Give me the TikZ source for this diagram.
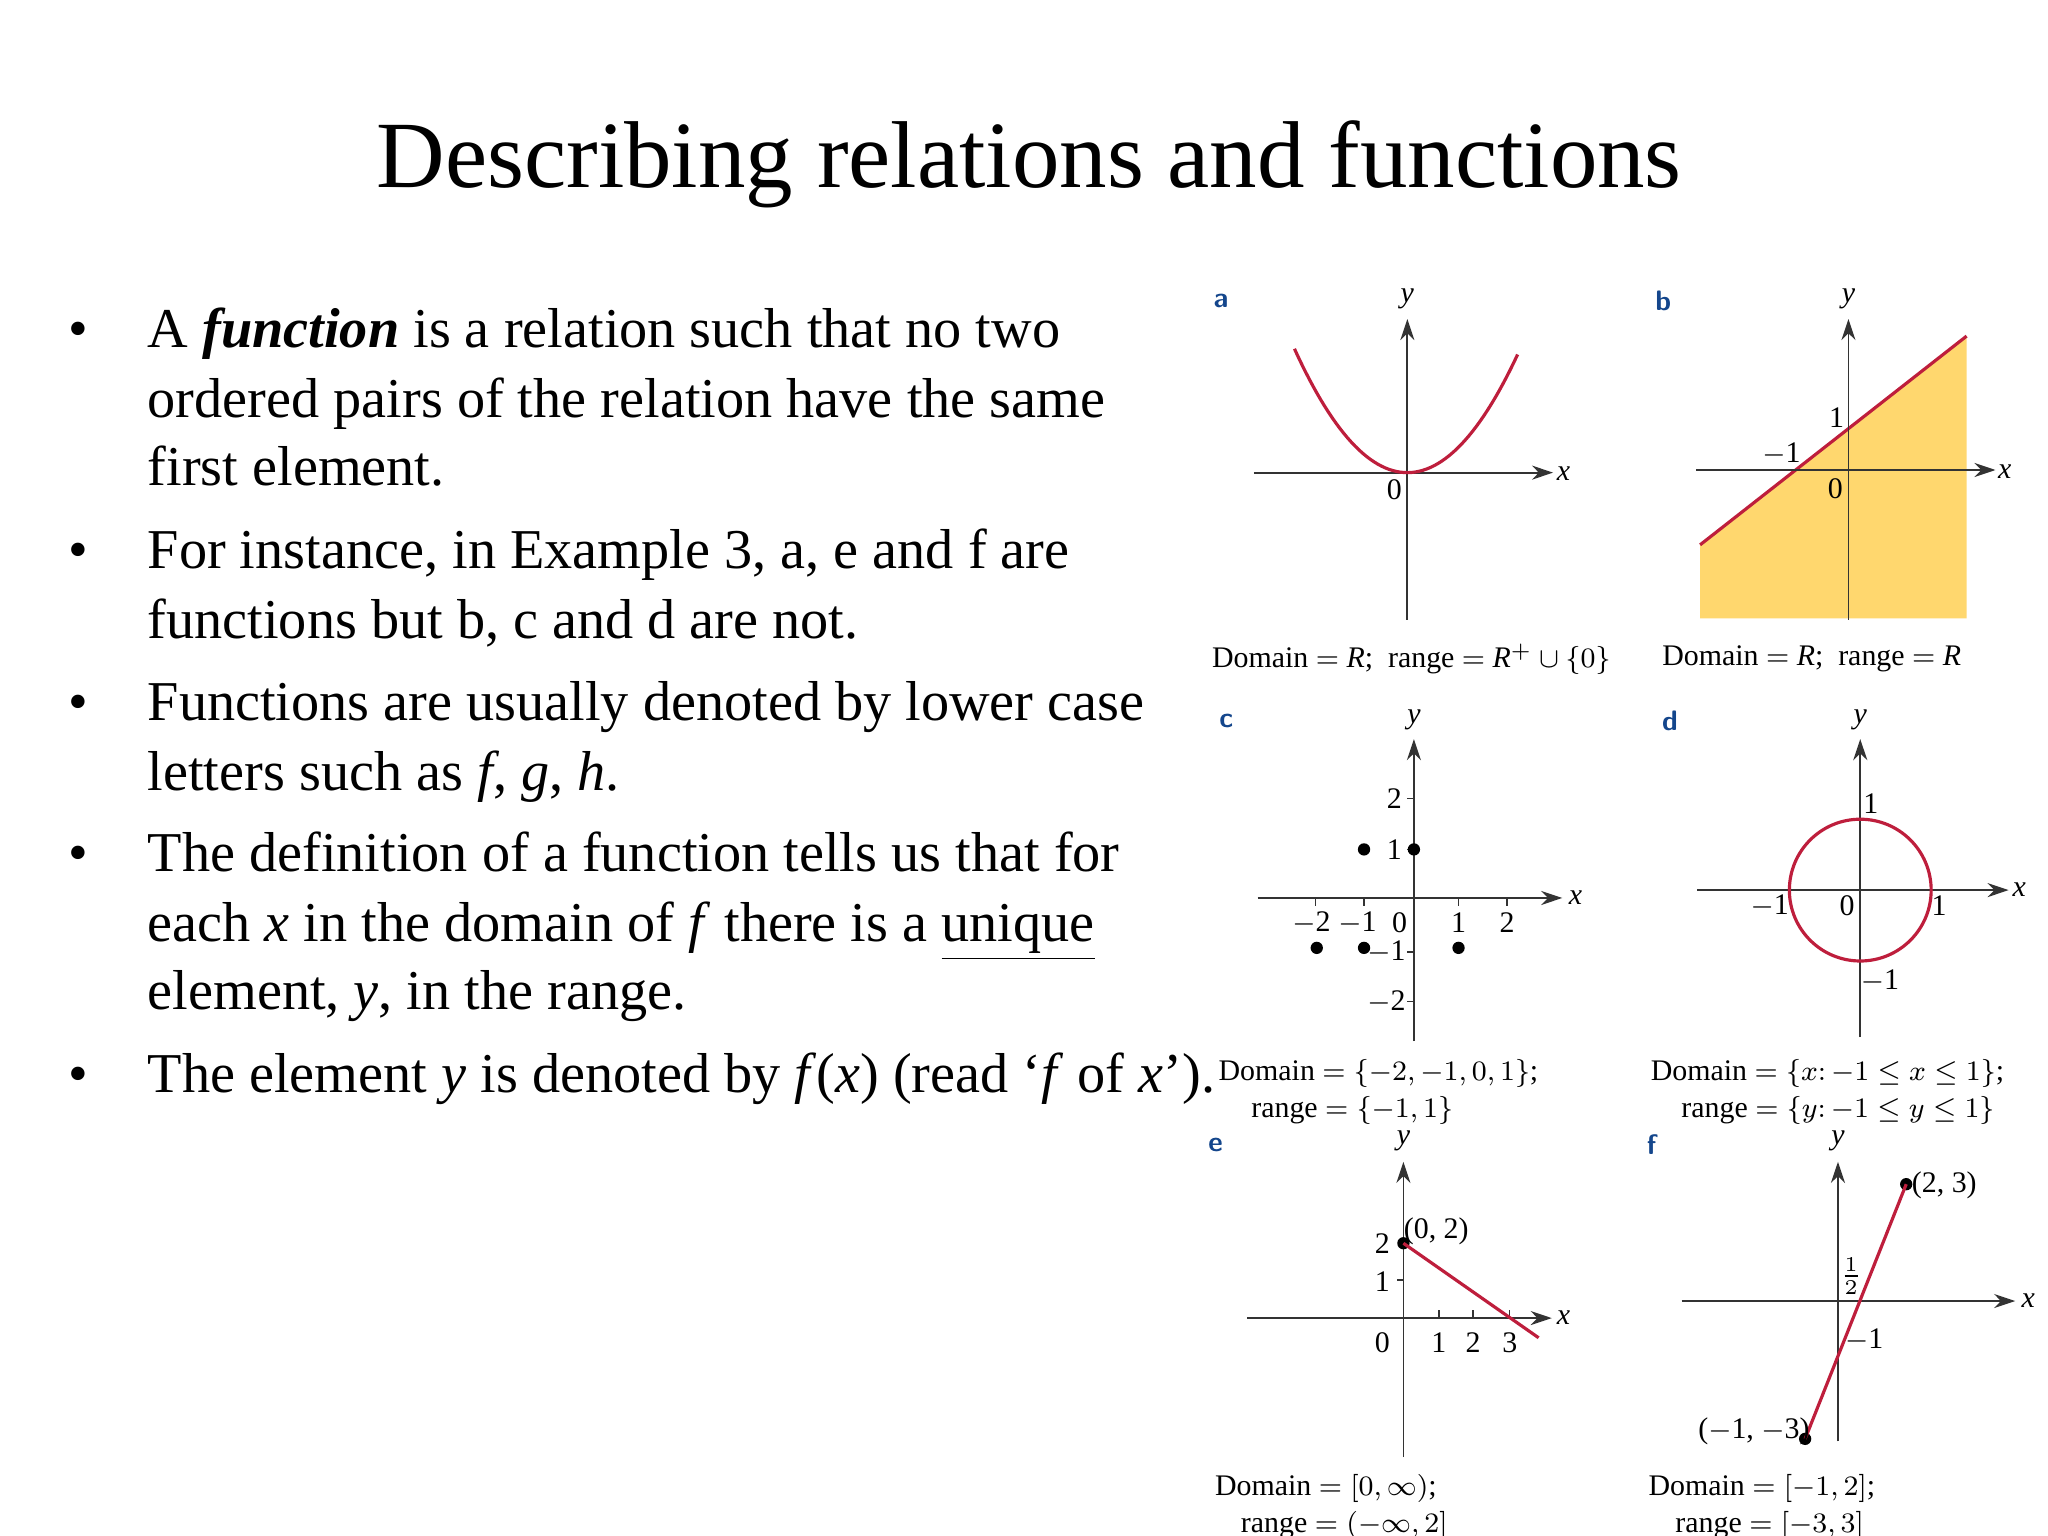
\documentclass[tikz,border=0pt]{standalone}
\usepackage{fontspec}
\setmainfont{Liberation Serif}
\usetikzlibrary{arrows.meta}
\definecolor{cred}{RGB}{190,30,60}
\definecolor{cyel}{RGB}{255,215,110}
\definecolor{cblue}{RGB}{20,70,140}
\begin{document}
\begin{tikzpicture}[x=0.013128cm,y=-0.013128cm,
  ax/.style={draw=black!80,line width=0.5pt,-{Stealth[length=6pt,width=4pt]}},
  lb/.style={font=\fontsize{8.5}{9}\selectfont,inner sep=0pt},
  captxt/.style={font=\fontsize{8.5}{10}\selectfont,inner sep=0pt},
  letr/.style={font=\sffamily\bfseries\fontsize{8}{9}\selectfont,text=cblue,inner sep=0pt},
  curve/.style={draw=cred,line width=0.9pt},
  dotp/.style={circle,fill=black,inner sep=0pt,minimum size=3.5pt},
  bt/.style={anchor=base west,inner sep=0pt,font=\fontsize{16}{18}\selectfont},
  bul/.style={anchor=base,inner sep=0pt,font=\fontsize{16}{18}\selectfont},
  tk/.style={draw=black!80,line width=0.4pt}]
\useasboundingbox (0,0) rectangle (1560,1170);
\fill[white] (0,0) rectangle (1560,1170);
\node[font=\fontsize{27}{30}\selectfont,inner sep=0pt] (title) at (784,125) {Describing relations and functions};
% bullets
\foreach \yy/\nm in {265/b1,433/b2,549/b3,664/b4,832/b5}{\node[bul] (\nm) at (60,\yy) {\textbullet};}
\node[bt] (l1) at (112,265) {A \textbf{\textit{function}} is a relation such that no two};
\node[bt] (l2) at (112,318) {ordered pairs of the relation have the same};
\node[bt] (l3) at (112,370) {first element.};
\node[bt] (l4) at (112,433) {For instance, in Example 3, a, e and f are};
\node[bt] (l5) at (112,486) {functions but b, c and d are not.};
\node[bt] (l6) at (112,549) {Functions are usually denoted by lower case};
\node[bt] (l7) at (112,602) {letters such as \textit{f}, \textit{g}, \textit{h}.};
\node[bt] (l8) at (112,664) {The definition of a function tells us that for};
\node[bt] (l9) at (112,717) {each \textit{x} in the domain of \textit{f} there is a \underline{unique}};
\node[bt] (l10) at (112,769) {element, \textit{y}, in the range.};
\node[bt] (l11) at (112,832) {The element \textit{y} is denoted by \textit{f}(\textit{x}) (read ‘\textit{f} of \textit{x}’).};
% ---- a
\node[letr] (la) at (930,229) {a};
\draw[ax] (1072,472) -- (1072,243);
\draw[ax] (955,360) -- (1183,360);
\node[lb] (ay) at (1072,228) {\textit{y}};
\node[lb] (axx) at (1191,361) {\textit{x}};
\node[lb] (a0) at (1062,373) {0};
\draw[curve,domain=-86:84,samples=60] plot ({1072+\x},{360-90*(\x/84)^2});
\node[captxt] (ca) at (1075,502) {Domain $=$ \textit{R};\ \ range $=$ \textit{R}$^{+}\cup\{0\}$};
% ---- b
\node[letr] (lbb) at (1267,229) {b};
\fill[cyel] (1295,415) -- (1498,256) -- (1498,471) -- (1295,471) -- cycle;
\draw[curve] (1295,415) -- (1498,256);
\draw[ax] (1408,472) -- (1408,243);
\draw[ax] (1292,358) -- (1520,358);
\node[lb] (by) at (1408,228) {\textit{y}};
\node[lb] (bx) at (1527,359) {\textit{x}};
\node[lb] (b0) at (1398,372) {0};
\node[lb] (b1l) at (1399,318) {1};
\node[lb] (bm1) at (1357,346) {$-$1};
\node[captxt] (cb) at (1380,502) {Domain $=$ \textit{R};\ \ range $=$ \textit{R}};
% ---- c
\node[letr] (lc) at (934,549) {c};
\draw[ax] (1077,793) -- (1077,563);
\draw[ax] (958,684) -- (1190,684);
\node[lb] (cy) at (1077,548) {\textit{y}};
\node[lb] (cx) at (1200,684) {\textit{x}};
\foreach \xx in {1002,1039,1111,1148} \draw[tk] (\xx,684) -- (\xx,690);
\foreach \yy in {608,647,725,763} \draw[tk] (1077,\yy) -- (1072,\yy);
\node[lb] at (999,703) {$-$2};
\node[lb] at (1034,703) {$-$1};
\node[lb] at (1066,703) {0};
\node[lb] at (1111,703) {1};
\node[lb] at (1148,703) {2};
\node[lb] at (1062,608) {2};
\node[lb] at (1062,647) {1};
\node[lb] at (1056,725) {$-$1};
\node[lb] at (1056,763) {$-$2};
\node[dotp] (p1) at (1039,647) {};
\node[dotp] (p2) at (1077,647) {};
\node[dotp] (p3) at (1003,722) {};
\node[dotp] (p4) at (1039,722) {};
\node[dotp] (p5) at (1111,722) {};
\node[captxt] (cc1) at (1050,818) {Domain $=\{-2,-1,0,1\}$;};
\node[captxt] (cc2) at (1030,846) {range $=\{-1,1\}$};
% ---- d
\node[letr] (ld) at (1272,549) {d};
\draw[ax] (1417,790) -- (1417,563);
\draw[ax] (1293,678) -- (1530,678);
\node[lb] (dy) at (1417,548) {\textit{y}};
\node[lb] (dx) at (1538,678) {\textit{x}};
\draw[curve] (1417,678) circle [radius=54];
\node[lb] at (1425,612) {1};
\node[lb] at (1407,690) {0};
\node[lb] at (1348,690) {$-$1};
\node[lb] at (1477,690) {1};
\node[lb] at (1432,747) {$-$1};
\node[captxt] (cd1) at (1392,818) {Domain $=\{x\colon -1\leq x\leq 1\}$;};
\node[captxt] (cd2) at (1400,846) {range $=\{y\colon -1\leq y\leq 1\}$};
% ---- e
\node[letr] (le) at (926,872) {e};
\draw[ax] (1069,1110) -- (1069,885);
\draw[ax] (950,1004) -- (1182,1004);
\node[lb] (ey) at (1069,869) {\textit{y}};
\node[lb] (ex) at (1191,1004) {\textit{x}};
\foreach \xx in {1096,1122,1150} \draw[tk] (\xx,1004) -- (\xx,998);
\draw[tk] (1069,975) -- (1064,975);
\node[lb] at (1053,1023) {0};
\node[lb] at (1096,1023) {1};
\node[lb] at (1122,1023) {2};
\node[lb] at (1150,1023) {3};
\node[lb] at (1053,976) {1};
\node[lb] at (1053,947) {2};
\node[dotp] (e0) at (1069,947) {};
\coordinate (e1) at (1172,1019);
\draw[curve] (e0.center) -- (e1);
\node[lb] at (1094,938) {(0, 2)};
\node[captxt] (ce1) at (1010,1134) {Domain $=[0,\infty)$;};
\node[captxt] (ce2) at (1024,1162) {range $=(-\infty,2]$};
% ---- f
\node[letr] (lf) at (1258,872) {f};
\draw[ax] (1400,1098) -- (1400,885);
\draw[ax] (1281,991) -- (1535,991);
\node[lb] (fy) at (1400,869) {\textit{y}};
\node[lb] (fx) at (1545,991) {\textit{x}};
\node[dotp] (f0) at (1375,1096) {};
\node[dotp] (f1) at (1452,902) {};
\draw[curve] (f0.center) -- (f1.center);
\node[lb] at (1481,903) {(2, 3)};
\node[lb] at (1336,1090) {($-$1, $-$3)};
\node[lb] at (1410,972) {$\frac{1}{2}$};
\node[lb] at (1420,1021) {$-$1};
\node[captxt] (cf1) at (1342,1134) {Domain $=[-1,2]$;};
\node[captxt] (cf2) at (1348,1162) {range $=[-3,3]$};
\end{tikzpicture}
\end{document}
